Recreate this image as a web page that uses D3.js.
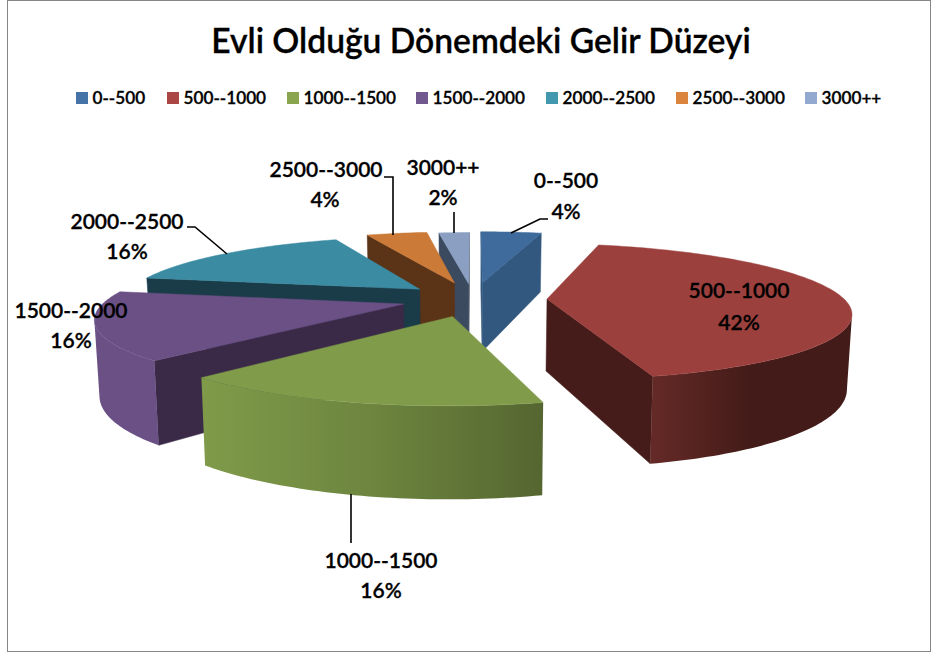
<!DOCTYPE html>
<html><head><meta charset="utf-8">
<script src="https://cdn.jsdelivr.net/npm/d3@7/dist/d3.min.js"></script>
<style>html,body{margin:0;padding:0;background:#fff}svg{display:block}text{font-family:Lato,"Open Sans",sans-serif;font-weight:600;fill:#000;stroke:#000;stroke-width:0.3px}</style>
</head><body><svg id="c" width="936" height="652"></svg>
<script>
const title = "Evli Olduğu Dönemdeki Gelir Düzeyi";
const categories = ["0--500","500--1000","1000--1500","1500--2000","2000--2500","2500--3000","3000++"];
const values = [4,42,16,16,16,4,2];
const legendColors = ["#4572a7","#aa4643","#89a54e","#71588f","#4198af","#db843d","#93a9cf"];
const topColors = ["#3f6a9c","#9c403e","#809c4a","#6a5085","#3b8ba2","#cb7a38","#8a9fc2"];
const faceColors = ["#33587f","#451c19","#5d7135","#3a2a48","#1a3b48","#5b3317","#3c4a5f"];
const outerStops = [["#33587f","#33587f"],["#652a27","#431b18","#431b18"],["#7f9b49","#6d853f","#556630"],["#6a5085","#6a5085"],["#1a3b48","#1a3b48"],["#5b3317","#5b3317"],["#3c4a5f","#3c4a5f"]];

// layout
const P = {cx:473, cy:299, R:297, f:1623, T:0.221, H:72, lean:0.0135};
const explodeBy = [78,74,78,72,71,78,72];
const paintOrder = [0,6,5,4,3,1,2];
const legendX = [76,167,287,416,546,676,805];
const labelPos = [[566,181,566,212],[739,291,739,323],[381,561,381,591],[71,311,71,341],[127,222,127,252],[326,170,325,200],[443,168,443,198]];
const leaders = [[[511,233],[540,219],[548,219]],null,[[351,494],[351,543]],null,[[227,254],[195,227],[187,227]],[[393,235],[393,177],[384,177]],[[454,233],[454,212]]];

const svg = d3.select("#c");
const defs = svg.append("defs");
svg.append("rect").attr("x",7.5).attr("y",0.5).attr("width",923).attr("height",651).attr("fill","#fff").attr("stroke","#868686").attr("stroke-width",1);

function project(u,v,z){
  const s = 1/(1 - v/P.f);
  return [P.cx + u*s*(1 - P.lean*z), P.cy + P.T*v*s + P.H*z*s];
}
const path = d3.line();

const arcs = d3.pie().sort(null).value(d=>d)(values);
const g = svg.append("g");

paintOrder.forEach(i=>{
  const a = arcs[i];
  const mid = (a.startAngle+a.endAngle)/2;
  const ox = Math.sin(mid)*explodeBy[i], oy = -Math.cos(mid)*explodeBy[i];
  const pt = (ang,r,z)=>project(ox+Math.sin(ang)*r, oy-Math.cos(ang)*r, z);
  const slice = g.append("g");
  const n = Math.max(4,Math.round((a.endAngle-a.startAngle)/0.02));
  const angs = d3.range(n+1).map(k=>a.startAngle+(a.endAngle-a.startAngle)*k/n);

  // radial faces; culled by screen winding
  const startFace=[pt(a.startAngle,0,0),pt(a.startAngle,0,1),pt(a.startAngle,P.R,1),pt(a.startAngle,P.R,0)];
  const endFace=[pt(a.endAngle,0,0),pt(a.endAngle,P.R,0),pt(a.endAngle,P.R,1),pt(a.endAngle,0,1)];
  [startFace,endFace].forEach(f=>{
    if(d3.polygonArea(f)<0) slice.append("path").attr("d",path(f)+"Z").attr("fill",faceColors[i]).attr("stroke",faceColors[i]).attr("stroke-width",0.5);
  });
  // outer wall: visible stretch only, shaded left to right
  const vis=[];
  for(let k=0;k<n;k++){
    const q=[pt(angs[k],P.R,0),pt(angs[k+1],P.R,0),pt(angs[k+1],P.R,1),pt(angs[k],P.R,1)];
    if(d3.polygonArea(q)>0) vis.push(k);
  }
  if(vis.length){
    const k0=d3.min(vis), k1=d3.max(vis)+1;
    const run=d3.range(k0,k1+1).map(k=>angs[k]);
    const wall=[...run.map(t=>pt(t,P.R,0)),...run.slice().reverse().map(t=>pt(t,P.R,1))];
    const xs=d3.extent(wall,d=>d[0]);
    const id="wall"+i, stops=outerStops[i];
    const lg=defs.append("linearGradient").attr("id",id).attr("gradientUnits","userSpaceOnUse")
      .attr("x1",xs[0]).attr("x2",xs[1]).attr("y1",0).attr("y2",0);
    stops.forEach((c,j)=>lg.append("stop").attr("offset",j/(stops.length-1)).attr("stop-color",c));
    slice.append("path").attr("d",path(wall)+"Z").attr("fill",`url(#${id})`);
  }
  // top
  const top=[pt(a.startAngle,0,0),...angs.map(t=>pt(t,P.R,0))];
  slice.append("path").attr("d",path(top)+"Z").attr("fill",topColors[i]).attr("stroke",topColors[i]).attr("stroke-width",0.5);
});

// leaders
leaders.forEach(l=>{ if(l) svg.append("path").attr("d",path(l)).attr("fill","none").attr("stroke","#000").attr("stroke-width",1.6); });

// labels
categories.forEach((c,i)=>{
  const p=labelPos[i];
  svg.append("text").attr("x",p[0]).attr("y",p[1]).attr("dy","0.35em").attr("text-anchor","middle").attr("font-size",21).text(c);
  svg.append("text").attr("x",p[2]).attr("y",p[3]).attr("dy","0.35em").attr("text-anchor","middle").attr("font-size",21).text(values[i]+"%");
});

// title
svg.append("text").attr("x",481).attr("y",41).attr("dy","0.35em").attr("text-anchor","middle").attr("font-size",33.6).text(title);

// legend
categories.forEach((c,i)=>{
  svg.append("rect").attr("x",legendX[i]).attr("y",92).attr("width",12).attr("height",12).attr("fill",legendColors[i]).attr("stroke","none");
  svg.append("text").attr("x",legendX[i]+16.5).attr("y",98).attr("dy","0.35em").attr("font-size",17.2).text(c);
});
</script></body></html>
